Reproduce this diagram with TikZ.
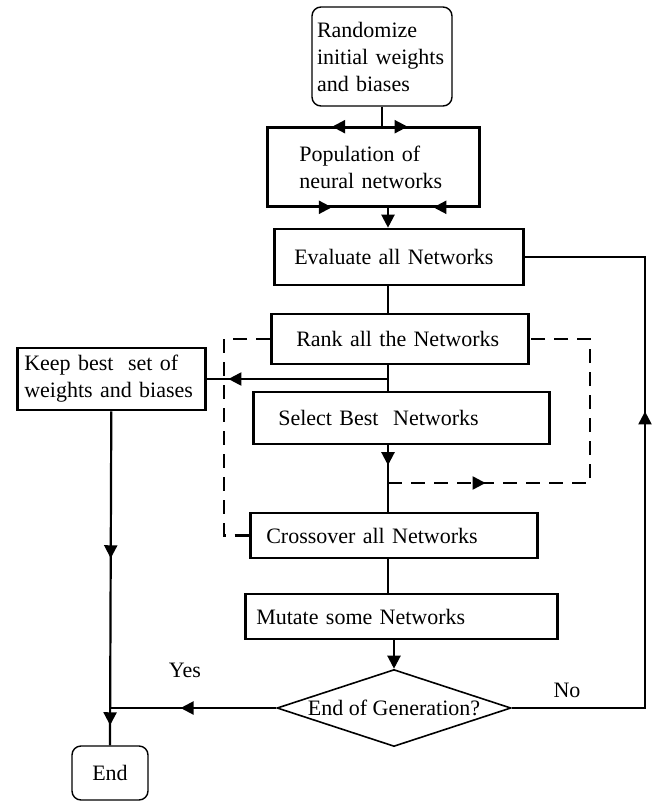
\documentclass[tikz,border=0pt]{standalone}
\usepackage{fontspec}
\setmainfont{Liberation Serif}
\usetikzlibrary{arrows.meta,shapes.geometric,decorations.markings}
\tikzset{
  stagebox/.style={draw,line width=2.6pt,align=left,inner ysep=0pt,anchor=west},
  termbox/.style={draw,line width=1.4pt,rounded corners=9pt,align=left,inner ysep=0pt},
  testbox/.style={draw,diamond,line width=1.6pt,shape aspect=3,inner sep=0pt,minimum width=234pt,minimum height=77pt},
  flow/.style={line width=2.2pt},
  dashflow/.style={line width=2.4pt,dash pattern=on 14pt off 9pt},
  flowtip/.style={postaction={decorate,decoration={markings,mark=at position #1 with {\arrow{Triangle[length=13pt,width=13pt]}}}}},
  endtip/.style={-{Triangle[length=13pt,width=13pt]}}
}
\begin{document}
\begin{tikzpicture}[x=1pt,y=-1pt,font=\fontsize{22}{27}\selectfont]
  \useasboundingbox (0,0) rectangle (657,802);
  % steps of the loop
  \node[termbox,text width=130pt,inner xsep=5pt,minimum height=99pt] (rand) at (382,56.5) {Randomize\\initial weights\\and biases};
  \node[stagebox,text width=148pt,inner xsep=32pt,minimum height=78pt] (pop) at (266,167) {Population of\\neural networks};
  \node[stagebox,text width=209pt,inner xsep=20pt,minimum height=56pt] (eval) at (273,257) {Evaluate all Networks};
  \node[stagebox,text width=207pt,inner xsep=25pt,minimum height=50pt] (rank) at (270,339) {Rank all the Networks};
  \node[stagebox,text width=246pt,inner xsep=25pt,minimum height=52pt] (sel) at (252,418) {Select Best\ \ Networks};
  \node[stagebox,text width=255pt,inner xsep=16pt,minimum height=45pt] (cross) at (249,535.5) {Crossover all Networks};
  \node[stagebox,text width=290pt,inner xsep=11pt,minimum height=45pt] (mut) at (244,616.5) {Mutate some Networks};
  \node[stagebox,text width=174pt,inner xsep=7pt,minimum height=62pt] (keep) at (16,379) {Keep best\ \ set of\\weights and biases};
  \node[testbox] (test) at (394,708) {End of Generation?};
  \node[termbox,minimum width=76pt,minimum height=54pt] (end) at (110,773) {End};
  \node (yes) at (185,670) {Yes};
  \node (no) at (567,690) {No};

  \coordinate (spine) at (388,0);
  \coordinate (pick) at (388,483);
  \coordinate (dashl) at (224,0);
  \coordinate (dashr) at (590,0);
  \coordinate (loopr) at (645,0);

  % main line
  \draw[flow] (rand.south) -- (rand.south |- pop.north);
  \draw[flow,flowtip=0.43] (rand.south |- pop.north) -- (pop.north west);
  \draw[flow,flowtip=0.26] (rand.south |- pop.north) -- (pop.north east);
  \draw[flow,flowtip=0.54] (pop.south west) -- (pop.south -| spine);
  \draw[flow,flowtip=0.51] (pop.south east) -- (pop.south -| spine);
  \draw[flow,endtip] (pop.south -| spine) -- (eval.north -| spine);
  \draw[flow] (eval.south -| spine) -- (rank.north -| spine);
  \draw[flow] (rank.south -| spine) -- (sel.north -| spine);
  \draw[flow,flowtip=0.88] (keep.east -| spine) -- (keep.east);
  \draw[flow,flowtip=0.3] (sel.south -| spine) -- (cross.north -| spine);
  \draw[flow] (cross.south -| spine) -- (mut.north -| spine);
  \draw[flow,endtip] (mut.south -| test.north) -- (test.north);

  % dashed bypass
  \draw[dashflow] (rank.west) -- (rank.west -| dashl) |- (cross.west);
  \draw[dashflow,flowtip=0.24] (pick) -| (dashr |- rank.east) -- (rank.east);

  % exits
  \draw[flow,flowtip=0.58] (test.west) -- (test.west -| keep.south);
  \draw[flow,flowtip=0.44,flowtip=0.94] (keep.south) -- (end.north);
  \draw[flow,flowtip=0.61] (test.east) -- (test.east -| loopr) -- (loopr |- eval.east) -- (eval.east);
\end{tikzpicture}
\end{document}
